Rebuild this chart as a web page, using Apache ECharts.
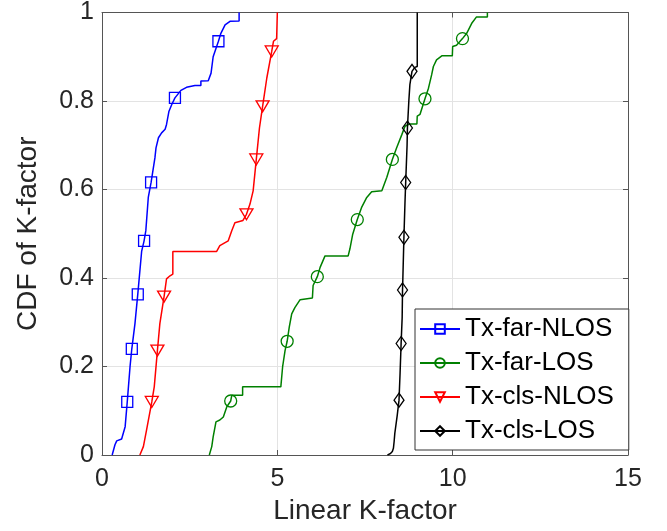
<!DOCTYPE html>
<html>
<head>
<meta charset="utf-8">
<script src="https://cdn.jsdelivr.net/npm/echarts@6/dist/echarts.min.js"></script>
<style>html,body{margin:0;padding:0;background:#fff;}#c{width:667px;height:531px;}</style>
</head>
<body>
<div id="c"></div>
<script>
const seriesNames = ['Tx-far-NLOS', 'Tx-far-LOS', 'Tx-cls-NLOS', 'Tx-cls-LOS'];
const xTicks = [0, 5, 10, 15];
const yTickLabels = ['0', '0.2', '0.4', '0.6', '0.8', '1'];

const farNlosCurve = [[0.29,0],[0.37,0.023],[0.42,0.032],[0.56,0.036],[0.66,0.064],[0.80,0.2],[0.94,0.297],[1.13,0.46],[1.25,0.507],[1.32,0.582],[1.51,0.672],[1.54,0.694],[1.61,0.717],[1.70,0.728],[1.80,0.736],[1.84,0.747],[1.91,0.777],[1.99,0.792],[2.16,0.815],[2.25,0.824],[2.41,0.831],[2.65,0.835],[2.82,0.835],[2.82,0.845],[3.03,0.846],[3.11,0.863],[3.17,0.90],[3.39,0.953],[3.51,0.972],[3.65,0.98],[3.91,0.981],[3.91,1.0]];
const farNlosMarkers = [[0.72,0.12],[0.85,0.24],[1.02,0.363],[1.20,0.484],[1.40,0.616],[2.08,0.807],[3.32,0.935]];

const farLosCurve = [[3.06,0],[3.13,0.019],[3.17,0.041],[3.25,0.075],[3.36,0.079],[3.46,0.086],[3.56,0.109],[3.70,0.135],[4.01,0.135],[4.01,0.154],[5.10,0.154],[5.15,0.199],[5.22,0.236],[5.34,0.289],[5.41,0.319],[5.50,0.333],[5.65,0.351],[5.69,0.355],[6.0,0.355],[6.02,0.383],[6.22,0.424],[6.36,0.45],[7.02,0.45],[7.07,0.466],[7.15,0.499],[7.40,0.559],[7.55,0.582],[7.69,0.595],[7.98,0.597],[8.12,0.627],[8.40,0.694],[8.55,0.724],[8.64,0.743],[8.76,0.748],[8.98,0.748],[8.99,0.766],[9.07,0.77],[9.31,0.829],[9.40,0.859],[9.45,0.878],[9.54,0.893],[9.69,0.902],[9.99,0.902],[10.0,0.923],[10.11,0.926],[10.40,0.953],[10.54,0.975],[10.68,0.99],[10.99,0.99],[10.99,1.0]];
const farLosMarkers = [[3.67,0.122],[5.28,0.257],[6.14,0.403],[7.28,0.532],[8.28,0.668],[9.21,0.805],[10.28,0.941]];

const clsNlosCurve = [[1.08,0],[1.18,0.019],[1.27,0.056],[1.49,0.154],[1.65,0.297],[1.84,0.398],[1.89,0.402],[1.94,0.405],[2.02,0.409],[2.02,0.46],[3.27,0.46],[3.36,0.473],[3.51,0.48],[3.60,0.484],[3.70,0.507],[3.79,0.525],[4.02,0.53],[4.22,0.567],[4.31,0.597],[4.49,0.739],[4.70,0.852],[4.89,0.935],[4.98,0.941],[5.0,0.941],[5.0,1.0]];
const clsNlosMarkers = [[1.42,0.12],[1.58,0.236],[1.77,0.358],[4.12,0.544],[4.40,0.668],[4.58,0.788],[4.84,0.912]];

const clsLosCurve = [[8.14,0],[8.22,0.003],[8.28,0.008],[8.31,0.015],[8.33,0.03],[8.35,0.049],[8.42,0.09],[8.50,0.184],[8.56,0.311],[8.58,0.40],[8.64,0.57],[8.70,0.70],[8.75,0.8],[8.78,0.837],[8.85,0.87],[8.92,0.876],[8.99,0.878],[8.99,1.0]];
const clsLosMarkers = [[8.47,0.124],[8.53,0.252],[8.57,0.373],[8.61,0.492],[8.66,0.616],[8.71,0.739],[8.84,0.867]];

const FONT = 'Liberation Sans, Arial, Helvetica, sans-serif';

function build(curve, markers) {
  const pts = curve.map(p => ({ value: p, symbol: 'none' }))
    .concat(markers.map(p => ({ value: p })));
  pts.sort((a, b) => (a.value[1] - b.value[1]) || (a.value[0] - b.value[0]));
  return pts;
}

function mkSeries(name, color, curve, markers, symbol, size, rotate) {
  return {
    name: name, type: 'line', xAxisIndex: 0, yAxisIndex: 0,
    data: build(curve, markers),
    showSymbol: true, symbol: symbol, symbolSize: size, symbolRotate: rotate || 0,
    lineStyle: { color: color, width: 1.5 },
    itemStyle: { color: 'rgba(255,255,255,0)', borderColor: color, borderWidth: 1.3 },
    emphasis: { disabled: true },
    animation: false
  };
}

const chart = echarts.init(document.getElementById('c'));
const axisColor = '#555';
const textColor = '#262626';
chart.setOption({
  backgroundColor: '#fff',
  animation: false,
  grid: { left: 102, right: 39, top: 11, bottom: 76, containLabel: false },
  legend: {
    orient: 'vertical', left: 415, top: 309,
    padding: [7, 15, 6, 4],
    itemWidth: 40, itemHeight: 12, itemGap: 8,
    borderColor: '#333', borderWidth: 1, borderRadius: 0, backgroundColor: '#fff',
    textStyle: { fontSize: 26, fontFamily: FONT, color: '#000' },
    data: seriesNames
  },
  xAxis: [{
    type: 'value', min: 0, max: 15, interval: 5, position: 'bottom',
    name: 'Linear K-factor', nameLocation: 'middle', nameGap: 42,
    nameTextStyle: { fontSize: 28, fontFamily: FONT, color: textColor },
    axisLine: { show: true, onZero: false, lineStyle: { color: axisColor, width: 1 } },
    axisTick: { show: true, inside: true, length: 5, lineStyle: { color: axisColor } },
    axisLabel: { fontSize: 25, fontFamily: FONT, color: textColor, margin: 12,
      formatter: v => String(xTicks[xTicks.indexOf(v)]) },
    splitLine: { show: true, lineStyle: { color: '#e3e3e3', width: 1 } }
  }, {
    type: 'value', min: 0, max: 15, interval: 5, position: 'top',
    axisLine: { show: true, onZero: false, lineStyle: { color: axisColor, width: 1 } },
    axisTick: { show: true, inside: true, length: 5, lineStyle: { color: axisColor } },
    axisLabel: { show: false }, splitLine: { show: false }
  }],
  yAxis: [{
    type: 'value', min: 0, max: 1, interval: 0.2, position: 'left',
    name: 'CDF of K-factor', nameLocation: 'middle', nameGap: 60, nameRotate: 90,
    nameTextStyle: { fontSize: 28, fontFamily: FONT, color: textColor },
    axisLine: { show: true, onZero: false, lineStyle: { color: axisColor, width: 1 } },
    axisTick: { show: true, inside: true, length: 5, lineStyle: { color: axisColor } },
    axisLabel: { fontSize: 25, fontFamily: FONT, color: textColor, margin: 8,
      padding: [7, 0, 0, 0],
      formatter: v => yTickLabels[Math.round(v / 0.2)] },
    splitLine: { show: true, lineStyle: { color: '#e3e3e3', width: 1 } }
  }, {
    type: 'value', min: 0, max: 1, interval: 0.2, position: 'right',
    axisLine: { show: true, onZero: false, lineStyle: { color: axisColor, width: 1 } },
    axisTick: { show: true, inside: true, length: 5, lineStyle: { color: axisColor } },
    axisLabel: { show: false }, splitLine: { show: false }
  }],
  series: [
    mkSeries(seriesNames[0], '#0000ff', farNlosCurve, farNlosMarkers, 'rect', 11),
    mkSeries(seriesNames[1], '#008000', farLosCurve, farLosMarkers, 'circle', 12),
    mkSeries(seriesNames[2], '#ff0000', clsNlosCurve, clsNlosMarkers, 'triangle', [13, 11], 180),
    mkSeries(seriesNames[3], '#000000', clsLosCurve, clsLosMarkers, 'diamond', [10, 14])
  ]
});
</script>
</body>
</html>
